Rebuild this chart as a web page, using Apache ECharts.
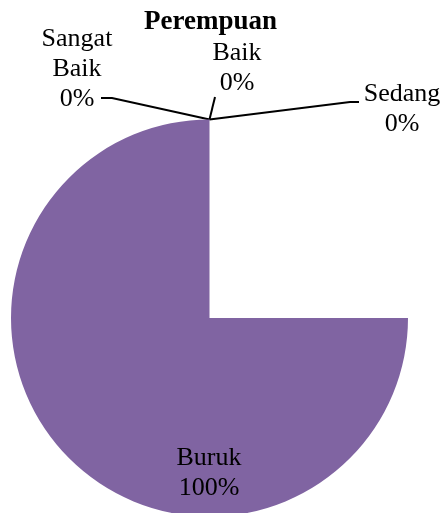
<!DOCTYPE html>
<html>
<head>
<meta charset="utf-8">
<script src="https://cdn.jsdelivr.net/npm/echarts@6/dist/echarts.min.js"></script>
<style>
html,body{margin:0;padding:0;background:#fff;}
#c{width:445px;height:513px;}
</style>
</head>
<body>
<div id="c"></div>
<script>
var title = 'Perempuan';
var categories = ['Sangat Baik', 'Baik', 'Sedang', 'Buruk'];
var values = [0, 0, 0, 100];

// label placement (layout only)
var labelPos = [
  {x: 77, y: 69, end: [[112, 98], [101, 98]]},
  {x: 237, y: 68, end: [[215, 97], [215, 97]]},
  {x: 402, y: 109, end: [[350, 102], [359, 102]]},
  {x: 209, y: 473, end: null}
];

var chart = echarts.init(document.getElementById('c'), null, {renderer: 'canvas'});
var font = '"Liberation Serif", "Times New Roman", serif';
chart.setOption({
  animation: false,
  backgroundColor: '#ffffff',
  title: {
    text: title,
    left: 144,
    top: 9,
    padding: 0,
    textStyle: {fontFamily: font, fontSize: 27, fontWeight: 'bold', color: '#000'}
  },
  series: [{
    type: 'pie',
    center: [209.5, 318],
    radius: 198.5,
    startAngle: 90,
    endAngle: 360,
    clockwise: false,
    silent: true,
    emphasis: {disabled: true},
    itemStyle: {color: '#8064A2', borderWidth: 0},
    label: {
      show: true,
      position: 'outside',
      fontFamily: font,
      fontSize: 26,
      lineHeight: 30,
      color: '#000',
      align: 'center',
      overflow: 'none',
      edgeDistance: 0,
      formatter: function (p) {
        return p.name.replace(' ', '\n') + '\n' + p.percent + '%';
      }
    },
    labelLine: {show: true, lineStyle: {color: '#000', width: 2}, length: 10, length2: 10},
    labelLayout: function (params) {
      var lp = labelPos[params.dataIndex];
      var out = {x: lp.x, y: lp.y, align: 'center', verticalAlign: 'middle'};
      if (lp.end && params.labelLinePoints) {
        var a = params.labelLinePoints[0];
        out.labelLinePoints = [[a[0], a[1]], lp.end[0], lp.end[1]];
      }
      return out;
    },
    data: categories.map(function (c, i) {
      var d = {name: c, value: values[i]};
      if (i === 3) {
        d.label = {position: 'inside'};
        d.labelLine = {show: false};
      }
      return d;
    })
  }]
});
</script>
</body>
</html>
